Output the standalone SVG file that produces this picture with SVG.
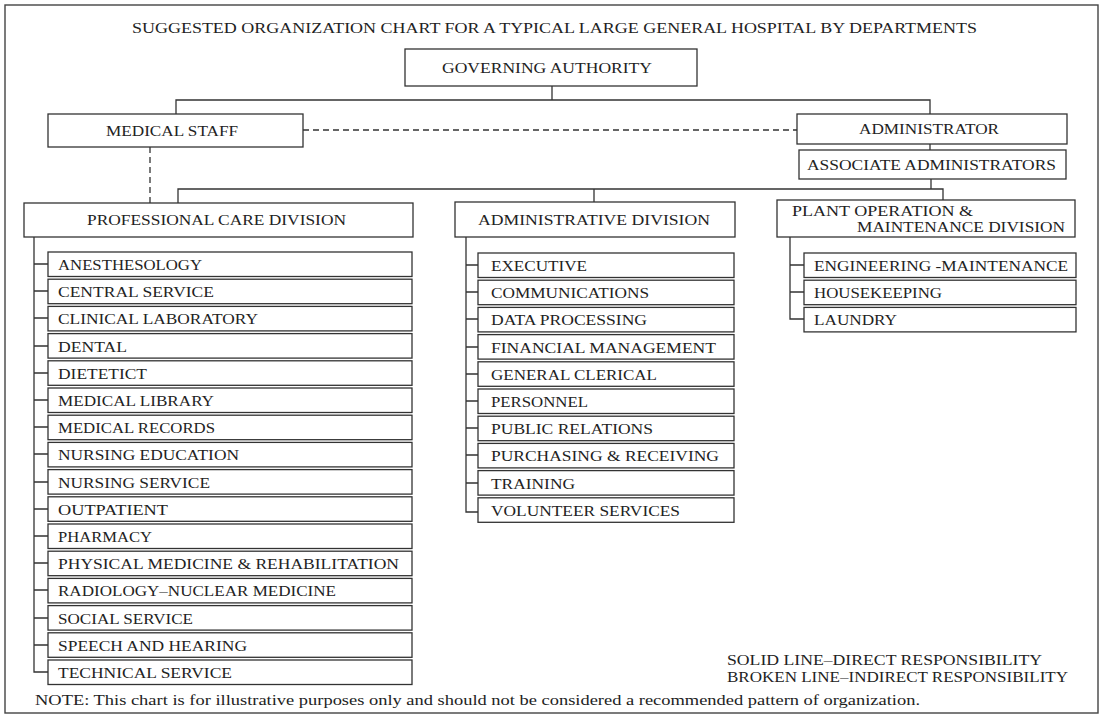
<svg xmlns="http://www.w3.org/2000/svg" width="1105" height="718" viewBox="0 0 1105 718">
<style>
.bg{fill:#fff}
.frame{fill:none;stroke:#444;stroke-width:1.4}
.box{fill:#fff;stroke:#333;stroke-width:1.3}
.ln{fill:none;stroke:#333;stroke-width:1.3}
.dash{fill:none;stroke:#333;stroke-width:1.3;stroke-dasharray:6 4}
text{font-family:"Liberation Serif","Times New Roman",serif;fill:#222}
.t{font-size:15px}
.h{font-size:15px}
.c{font-size:14.5px}
.m{text-anchor:middle}
.n{font-size:15.5px}
</style>
<rect class="bg" x="0" y="0" width="1105" height="718"/>
<rect class="frame" x="5" y="5" width="1093" height="708"/>
<text class="t m" x="554.5" y="33" textLength="845" lengthAdjust="spacingAndGlyphs">SUGGESTED ORGANIZATION CHART FOR A TYPICAL LARGE GENERAL HOSPITAL BY DEPARTMENTS</text>

<g id="connectors">
<path class="ln" d="M552 86V100M176 114V100H930V114"/>
<path class="ln" d="M930 144V150"/>
<path class="ln" d="M931 179V189M178 203V189H943V200M594 189V202"/>
<path class="dash" d="M303 130H797"/>
<path class="dash" d="M150 147V203"/>
<path class="ln" d="M34 237V672H48M34 264H48M34 291H48M34 318H48M34 346H48M34 373H48M34 400H48M34 427H48M34 454H48M34 482H48M34 509H48M34 536H48M34 563H48M34 590H48M34 618H48M34 645H48"/>
<path class="ln" d="M466 237V512H478M466 265H478M466 292H478M466 319H478M466 347H478M466 374H478M466 401H478M466 428H478M466 455H478M466 483H478"/>
<path class="ln" d="M790 237V319H804M790 265H804M790 292H804"/>
</g>

<g id="governing"><rect class="box" x="405" y="49" width="292" height="37"/><text class="h m" x="547" y="73" textLength="210" lengthAdjust="spacingAndGlyphs">GOVERNING AUTHORITY</text></g>
<g id="medical-staff"><rect class="box" x="48" y="114" width="255" height="33"/><text class="h m" x="172" y="136" textLength="132" lengthAdjust="spacingAndGlyphs">MEDICAL STAFF</text></g>
<g id="administrator"><rect class="box" x="797" y="114" width="270" height="30"/><text class="h m" x="929" y="134" textLength="140" lengthAdjust="spacingAndGlyphs">ADMINISTRATOR</text></g>
<g id="associate"><rect class="box" x="799" y="150" width="267" height="29"/><text class="h m" x="931.5" y="170" textLength="249" lengthAdjust="spacingAndGlyphs">ASSOCIATE ADMINISTRATORS</text></g>
<g id="professional-care"><rect class="box" x="24" y="203" width="389" height="34"/><text class="h m" x="216.5" y="225" textLength="259" lengthAdjust="spacingAndGlyphs">PROFESSIONAL CARE DIVISION</text></g>
<g id="administrative"><rect class="box" x="455" y="202" width="280" height="35"/><text class="h m" x="594" y="225" textLength="232" lengthAdjust="spacingAndGlyphs">ADMINISTRATIVE DIVISION</text></g>
<g id="plant"><rect class="box" x="777" y="200" width="298" height="37"/><text class="h" x="792" y="216" textLength="181" lengthAdjust="spacingAndGlyphs">PLANT OPERATION &amp;</text><text class="h" x="857" y="232" textLength="208" lengthAdjust="spacingAndGlyphs">MAINTENANCE DIVISION</text></g>

<g id="pc-anesthesology"><rect class="box" x="48" y="252" width="364" height="24.5"/><text class="c" x="58" y="270" textLength="144" lengthAdjust="spacingAndGlyphs">ANESTHESOLOGY</text></g>
<g id="pc-central"><rect class="box" x="48" y="279.2" width="364" height="24.5"/><text class="c" x="58" y="297.2" textLength="156" lengthAdjust="spacingAndGlyphs">CENTRAL SERVICE</text></g>
<g id="pc-clinical"><rect class="box" x="48" y="306.4" width="364" height="24.5"/><text class="c" x="58" y="324.4" textLength="200" lengthAdjust="spacingAndGlyphs">CLINICAL LABORATORY</text></g>
<g id="pc-dental"><rect class="box" x="48" y="333.6" width="364" height="24.5"/><text class="c" x="58" y="351.6" textLength="69" lengthAdjust="spacingAndGlyphs">DENTAL</text></g>
<g id="pc-dietetict"><rect class="box" x="48" y="360.8" width="364" height="24.5"/><text class="c" x="58" y="378.8" textLength="89" lengthAdjust="spacingAndGlyphs">DIETETICT</text></g>
<g id="pc-library"><rect class="box" x="48" y="388" width="364" height="24.5"/><text class="c" x="58" y="406" textLength="156" lengthAdjust="spacingAndGlyphs">MEDICAL LIBRARY</text></g>
<g id="pc-records"><rect class="box" x="48" y="415.2" width="364" height="24.5"/><text class="c" x="58" y="433.2" textLength="157" lengthAdjust="spacingAndGlyphs">MEDICAL RECORDS</text></g>
<g id="pc-nursing-ed"><rect class="box" x="48" y="442.4" width="364" height="24.5"/><text class="c" x="58" y="460.4" textLength="181" lengthAdjust="spacingAndGlyphs">NURSING EDUCATION</text></g>
<g id="pc-nursing-svc"><rect class="box" x="48" y="469.6" width="364" height="24.5"/><text class="c" x="58" y="487.6" textLength="152" lengthAdjust="spacingAndGlyphs">NURSING SERVICE</text></g>
<g id="pc-outpatient"><rect class="box" x="48" y="496.8" width="364" height="24.5"/><text class="c" x="58" y="514.8" textLength="110" lengthAdjust="spacingAndGlyphs">OUTPATIENT</text></g>
<g id="pc-pharmacy"><rect class="box" x="48" y="524" width="364" height="24.5"/><text class="c" x="58" y="542" textLength="94" lengthAdjust="spacingAndGlyphs">PHARMACY</text></g>
<g id="pc-physical"><rect class="box" x="48" y="551.2" width="364" height="24.5"/><text class="c" x="58" y="569.2" textLength="341" lengthAdjust="spacingAndGlyphs">PHYSICAL MEDICINE &amp; REHABILITATION</text></g>
<g id="pc-radiology"><rect class="box" x="48" y="578.4" width="364" height="24.5"/><text class="c" x="58" y="596.4" textLength="278" lengthAdjust="spacingAndGlyphs">RADIOLOGY–NUCLEAR MEDICINE</text></g>
<g id="pc-social"><rect class="box" x="48" y="605.6" width="364" height="24.5"/><text class="c" x="58" y="623.6" textLength="135" lengthAdjust="spacingAndGlyphs">SOCIAL SERVICE</text></g>
<g id="pc-speech"><rect class="box" x="48" y="632.8" width="364" height="24.5"/><text class="c" x="58" y="650.8" textLength="189" lengthAdjust="spacingAndGlyphs">SPEECH AND HEARING</text></g>
<g id="pc-technical"><rect class="box" x="48" y="660" width="364" height="24.5"/><text class="c" x="58" y="678" textLength="174" lengthAdjust="spacingAndGlyphs">TECHNICAL SERVICE</text></g>

<g id="ad-executive"><rect class="box" x="478" y="253" width="256" height="24.5"/><text class="c" x="491" y="271" textLength="96" lengthAdjust="spacingAndGlyphs">EXECUTIVE</text></g>
<g id="ad-communications"><rect class="box" x="478" y="280.2" width="256" height="24.5"/><text class="c" x="491" y="298.2" textLength="158" lengthAdjust="spacingAndGlyphs">COMMUNICATIONS</text></g>
<g id="ad-data"><rect class="box" x="478" y="307.4" width="256" height="24.5"/><text class="c" x="491" y="325.4" textLength="156" lengthAdjust="spacingAndGlyphs">DATA PROCESSING</text></g>
<g id="ad-financial"><rect class="box" x="478" y="334.6" width="256" height="24.5"/><text class="c" x="491" y="352.6" textLength="225" lengthAdjust="spacingAndGlyphs">FINANCIAL MANAGEMENT</text></g>
<g id="ad-clerical"><rect class="box" x="478" y="361.8" width="256" height="24.5"/><text class="c" x="491" y="379.8" textLength="166" lengthAdjust="spacingAndGlyphs">GENERAL CLERICAL</text></g>
<g id="ad-personnel"><rect class="box" x="478" y="389" width="256" height="24.5"/><text class="c" x="491" y="407" textLength="97" lengthAdjust="spacingAndGlyphs">PERSONNEL</text></g>
<g id="ad-public"><rect class="box" x="478" y="416.2" width="256" height="24.5"/><text class="c" x="491" y="434.2" textLength="162" lengthAdjust="spacingAndGlyphs">PUBLIC RELATIONS</text></g>
<g id="ad-purchasing"><rect class="box" x="478" y="443.4" width="256" height="24.5"/><text class="c" x="491" y="461.4" textLength="228" lengthAdjust="spacingAndGlyphs">PURCHASING &amp; RECEIVING</text></g>
<g id="ad-training"><rect class="box" x="478" y="470.6" width="256" height="24.5"/><text class="c" x="491" y="488.6" textLength="84" lengthAdjust="spacingAndGlyphs">TRAINING</text></g>
<g id="ad-volunteer"><rect class="box" x="478" y="497.8" width="256" height="24.5"/><text class="c" x="491" y="515.8" textLength="189" lengthAdjust="spacingAndGlyphs">VOLUNTEER SERVICES</text></g>

<g id="pl-engineering"><rect class="box" x="804" y="253" width="272" height="24.5"/><text class="c" x="814" y="271" textLength="254" lengthAdjust="spacingAndGlyphs">ENGINEERING -MAINTENANCE</text></g>
<g id="pl-housekeeping"><rect class="box" x="804" y="280.2" width="272" height="24.5"/><text class="c" x="814" y="298.2" textLength="128" lengthAdjust="spacingAndGlyphs">HOUSEKEEPING</text></g>
<g id="pl-laundry"><rect class="box" x="804" y="307.4" width="272" height="24.5"/><text class="c" x="814" y="325.4" textLength="83" lengthAdjust="spacingAndGlyphs">LAUNDRY</text></g>

<g id="legend">
<text class="c" x="727" y="665" textLength="315" lengthAdjust="spacingAndGlyphs">SOLID LINE–DIRECT RESPONSIBILITY</text>
<text class="c" x="727" y="682" textLength="341" lengthAdjust="spacingAndGlyphs">BROKEN LINE–INDIRECT RESPONSIBILITY</text>
</g>
<text class="n" x="35" y="705" textLength="885" lengthAdjust="spacingAndGlyphs">NOTE: This chart is for illustrative purposes only and should not be considered a recommended pattern of organization.</text>
</svg>
